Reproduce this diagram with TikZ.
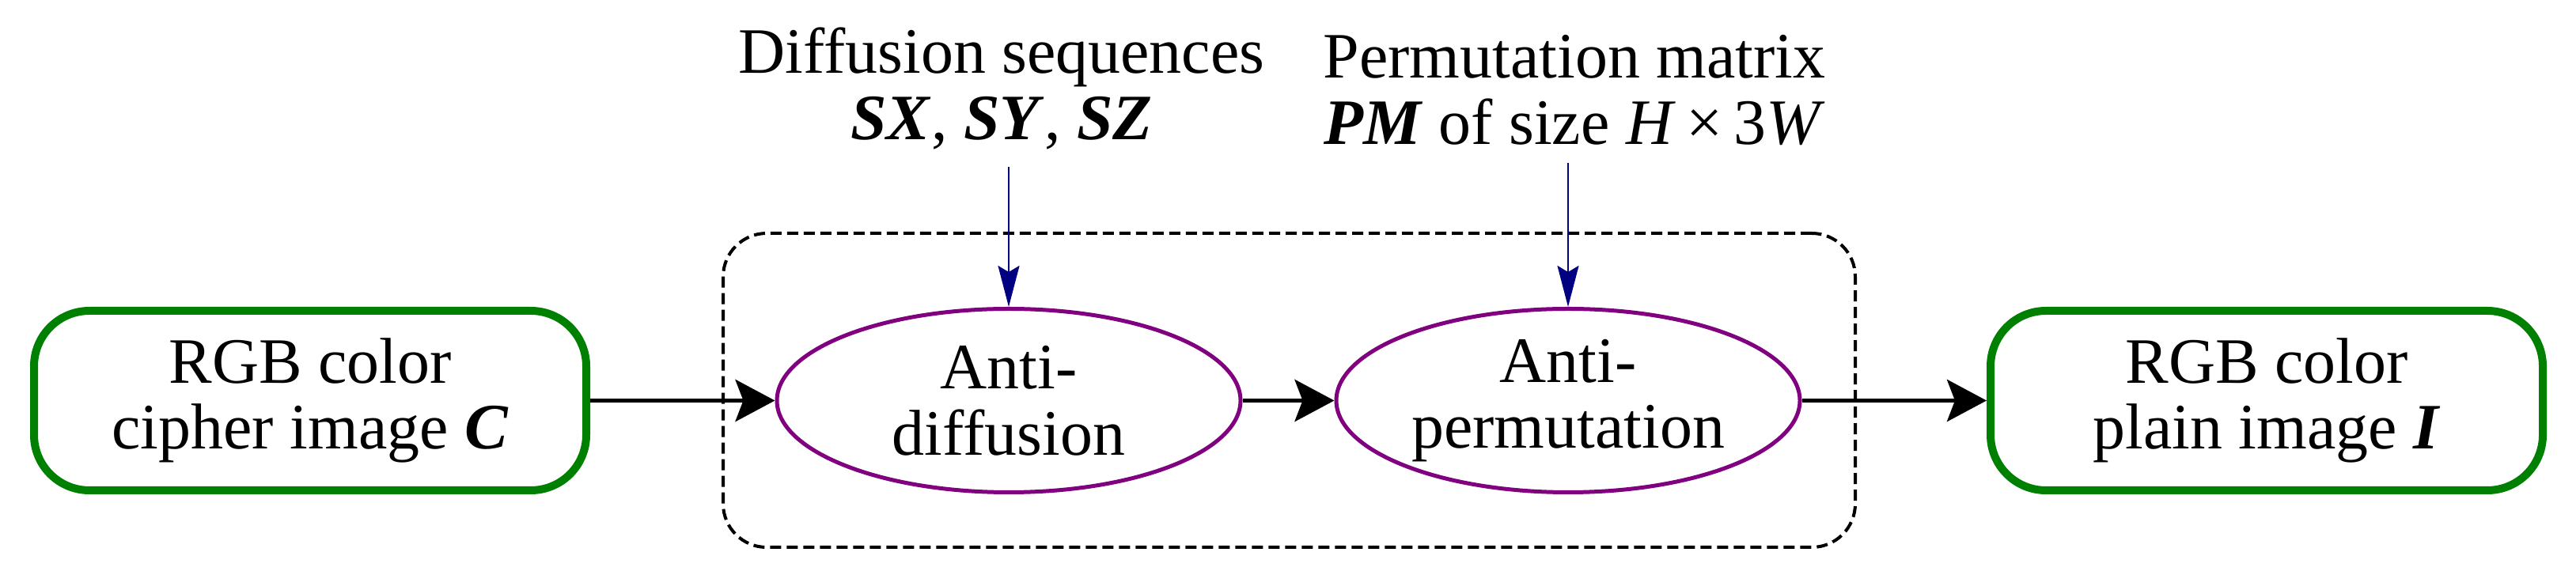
\documentclass[tikz,border=0pt]{standalone}
\usepackage{fontspec}
\setmainfont{Liberation Serif}
\usetikzlibrary{arrows.meta, shapes.geometric}
\definecolor{boxgreen}{RGB}{0,128,0}
\definecolor{oppurple}{RGB}{128,0,128}
\definecolor{keynavy}{RGB}{0,0,128}

\begin{document}
\begin{tikzpicture}[
		every node/.style={align=center, font=\fontsize{23.3pt}{23.8pt}\selectfont},
		imgbox/.style={rectangle, rounded corners=0.7cm, draw=boxgreen, line width=0.1cm, minimum width=6.98cm, minimum height=2.27cm},
		opnode/.style={ellipse, draw=oppurple, line width=0.05cm, inner sep=0pt, minimum width=5.86cm, minimum height=2.32cm},
		stagebox/.style={rectangle, rounded corners=0.55cm, draw=black, line width=0.04cm, dash pattern=on 0.14cm off 0.07cm, minimum width=14.31cm, minimum height=3.97cm},
		flow/.style={-{Stealth[length=0.5cm, width=0.53cm, inset=0.1cm]}, line width=0.055cm},
		keyflow/.style={-{Stealth[length=0.52cm, width=0.27cm, inset=0.08cm]}, draw=keynavy, line width=0.025cm, shorten <=0.1cm}
		]
		\useasboundingbox (0,0) rectangle (32.56,7.22);
		
		\node (stage) [stagebox] at (16.295,2.285) {};
		\node (cipher) [imgbox] at (3.92,2.155) {RGB color\\cipher image \textbf{\textit{C}}};
		\node (antidiff) [opnode, right of=cipher, node distance=8.83cm] {Anti-\\diffusion};
		\node (antiperm) [opnode, right of=antidiff, node distance=7.07cm] {Anti-\\permutation};
		\node (plain) [imgbox, right of=antiperm, node distance=8.83cm] {RGB color\\plain image \textbf{\textit{I}}};
		
		\node (diffkey) at (12.66,6.1) {Diffusion sequences\\\textbf{\textit{SX}}, \textbf{\textit{SY}}, \textbf{\textit{SZ}}};
		\node (permkey) at (19.90,6.08) {Permutation matrix\\\textbf{\textit{PM}} of size \textit{H}\,×\,3\textit{W}};
		
		\draw[flow] (cipher) -- (antidiff);
		\draw[flow] (antidiff) -- (antiperm);
		\draw[flow] (antiperm) -- (plain);
		\draw[keyflow] (antidiff.north |- diffkey.south) -- (antidiff.north);
		\draw[keyflow] (antiperm.north |- permkey.south) -- (antiperm.north);
	\end{tikzpicture}
\end{document}
